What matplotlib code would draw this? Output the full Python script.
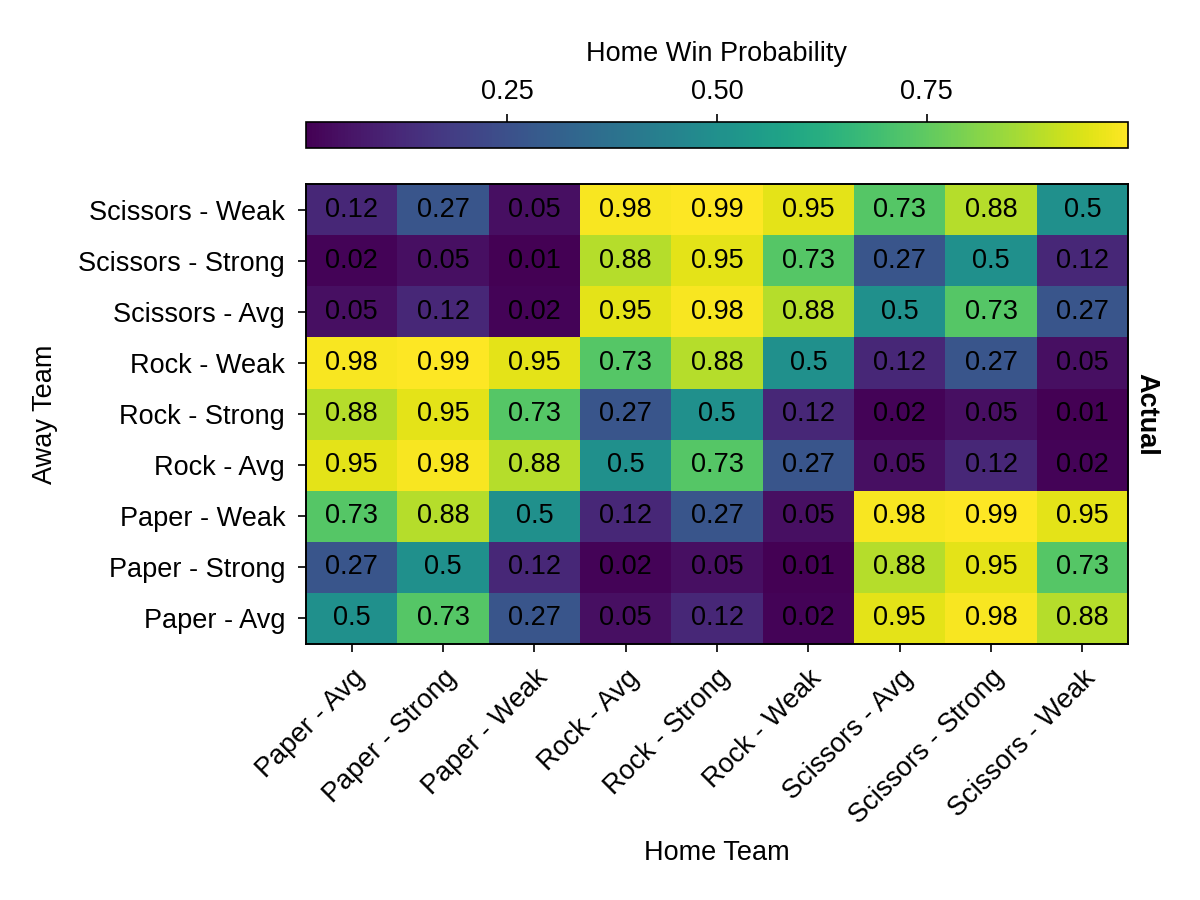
import matplotlib.pyplot as plt
import matplotlib as mpl
import numpy as np

mpl.rcParams['font.family'] = ['Liberation Sans', 'DejaVu Sans']
mpl.rcParams['font.size'] = 13

teams = ["Paper - Avg", "Paper - Strong", "Paper - Weak",
         "Rock - Avg", "Rock - Strong", "Rock - Weak",
         "Scissors - Avg", "Scissors - Strong", "Scissors - Weak"]

# rows = away team (bottom to top), columns = home team
paper_avg = [0.5, 0.73, 0.27, 0.05, 0.12, 0.02, 0.95, 0.98, 0.88]
paper_strong = [0.27, 0.5, 0.12, 0.02, 0.05, 0.01, 0.88, 0.95, 0.73]
paper_weak = [0.73, 0.88, 0.5, 0.12, 0.27, 0.05, 0.98, 0.99, 0.95]
rock_avg = [0.95, 0.98, 0.88, 0.5, 0.73, 0.27, 0.05, 0.12, 0.02]
rock_strong = [0.88, 0.95, 0.73, 0.27, 0.5, 0.12, 0.02, 0.05, 0.01]
rock_weak = [0.98, 0.99, 0.95, 0.73, 0.88, 0.5, 0.12, 0.27, 0.05]
scissors_avg = [0.05, 0.12, 0.02, 0.95, 0.98, 0.88, 0.5, 0.73, 0.27]
scissors_strong = [0.02, 0.05, 0.01, 0.88, 0.95, 0.73, 0.27, 0.5, 0.12]
scissors_weak = [0.12, 0.27, 0.05, 0.98, 0.99, 0.95, 0.73, 0.88, 0.5]

data = np.array([paper_avg, paper_strong, paper_weak,
                 rock_avg, rock_strong, rock_weak,
                 scissors_avg, scissors_strong, scissors_weak])

fig = plt.figure(figsize=(8, 6), dpi=150)
ax = fig.add_axes([0.255, 0.2844, 0.685, 0.511])
cax = fig.add_axes([0.255, 0.8356, 0.685, 0.0289])

im = ax.imshow(data, cmap='viridis', origin='lower', aspect='auto',
               vmin=data.min(), vmax=data.max())

for i in range(data.shape[0]):
    for j in range(data.shape[1]):
        ax.text(j, i, f"{data[i, j]:g}", ha='center', va='center',
                color='black', fontsize=13)

n = len(teams)
ax.set_xticks(np.arange(n))
ax.set_yticks(np.arange(n))
ax.set_xticklabels(teams, rotation=45, ha='right', rotation_mode='anchor')
ax.set_yticklabels(teams)
ax.set_xlabel("Home Team", labelpad=5)
ax.set_ylabel("Away Team", labelpad=10)
ax.tick_params(direction='out', length=4, pad=6)

ax2 = ax.twinx()
ax2.set_yticks([])
ax2.set_ylabel("Actual", rotation=-90, fontweight='bold', labelpad=15)

cb = fig.colorbar(im, cax=cax, orientation='horizontal')
cb.set_ticks([0.25, 0.5, 0.75])
cb.set_ticklabels(["0.25", "0.50", "0.75"])
cax.xaxis.set_ticks_position('top')
cax.xaxis.set_label_position('top')
cb.set_label("Home Win Probability", labelpad=9)
cax.tick_params(direction='out', length=4, pad=4)

plt.savefig("out.png", dpi=150)
